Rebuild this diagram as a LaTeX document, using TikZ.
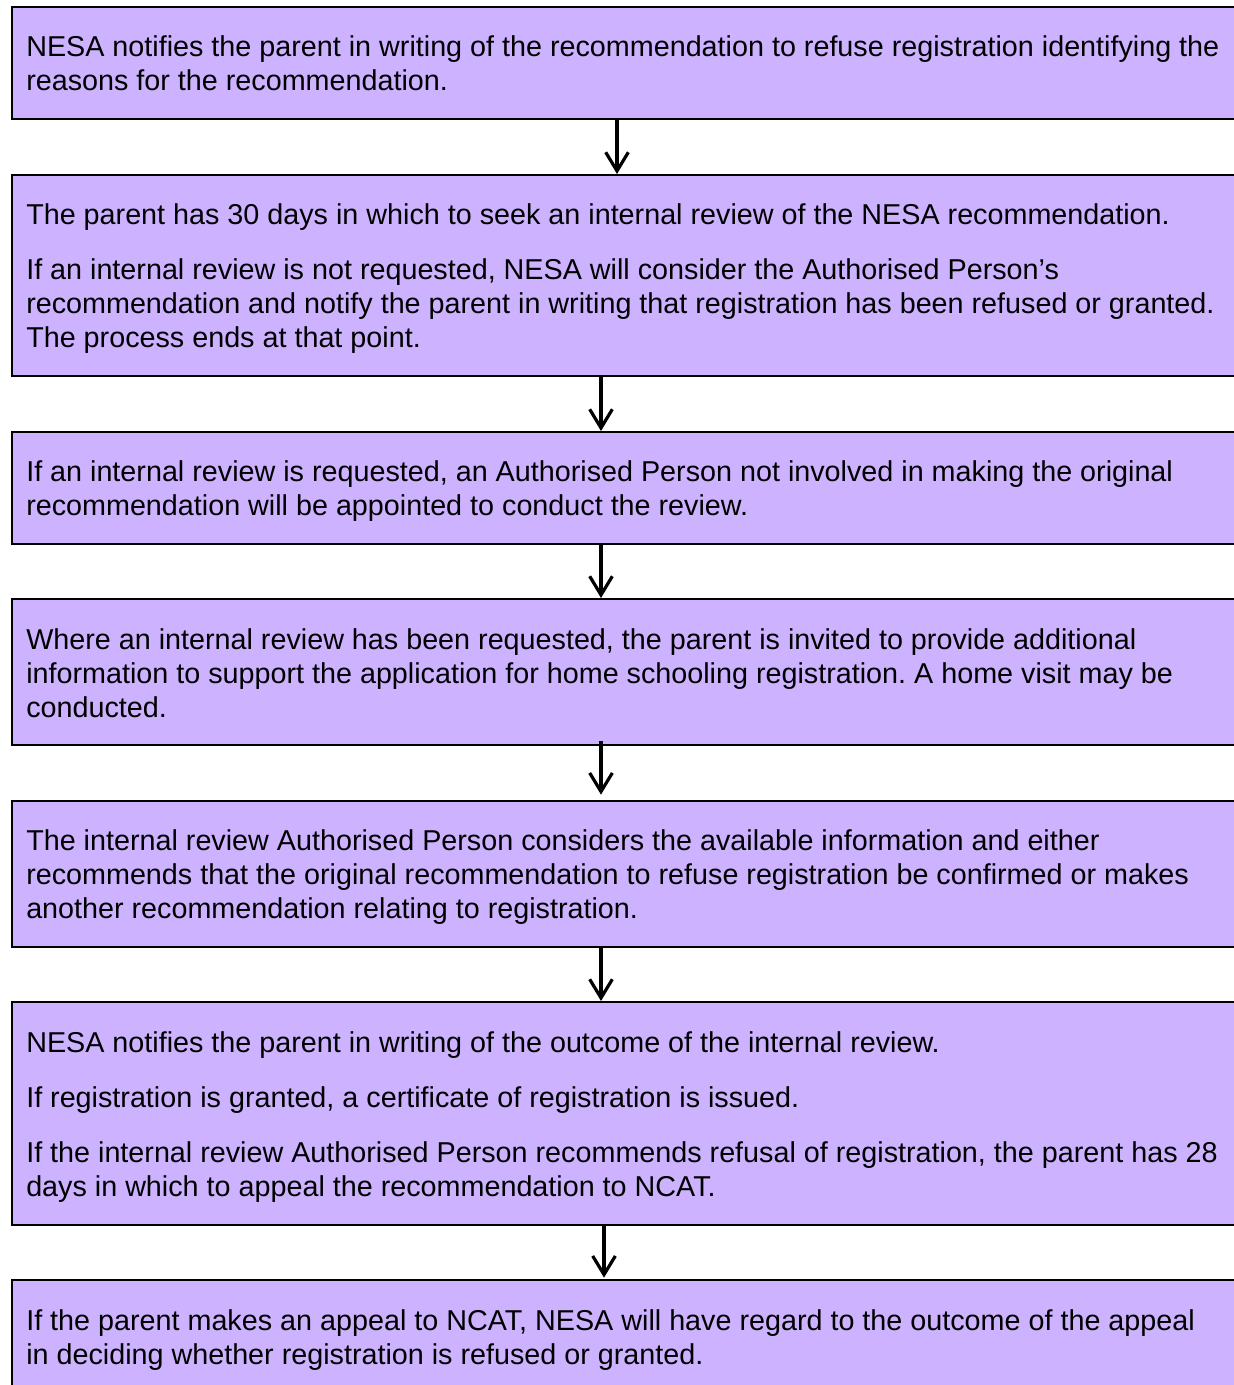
\documentclass[tikz,border=0pt]{standalone}
\usepackage{fontspec}
\setmainfont{Liberation Sans}
\usetikzlibrary{arrows.meta}
\definecolor{boxfill}{RGB}{204,178,255}
\newcommand{\fs}{\rule{0pt}{20pt}}
\begin{document}
\frenchspacing
\begin{tikzpicture}[x=0.75pt,y=-0.75pt,
  stepbox/.style={draw=black, line width=1.8pt, fill=boxfill, rectangle, inner sep=0pt, anchor=north west, minimum width=930pt},
  txt/.style={anchor=north west, inner sep=0pt, align=left, font=\fontsize{21.55pt}{25.5pt}\selectfont},
  arr/.style={line width=2.4pt, -{Straight Barb[length=14pt,width=17pt,line width=2.4pt]}}]
\useasboundingbox (0,0) rectangle (1233,1385);
% boxes
\node[stepbox, minimum height=84pt]     (b1) at (11,6) {};
\node[stepbox, minimum height=150.75pt] (b2) at (11,174) {};
\node[stepbox, minimum height=84pt]     (b3) at (11,431) {};
\node[stepbox, minimum height=109.5pt]  (b4) at (11,598) {};
\node[stepbox, minimum height=109.5pt]  (b5) at (11,800) {};
\node[stepbox, minimum height=167.25pt] (b6) at (11,1001) {};
\node[stepbox, minimum height=90.75pt]  (b7) at (11,1279) {};
% texts
\node[txt] (t1) at (26,29.6) {\fs NESA notifies the parent in writing of the recommendation to refuse registration identifying the\\
reasons for the recommendation.};
\node[txt] (t2) at (26,197.6) {\fs The parent has 30 days in which to seek an internal review of the NESA recommendation.\\[15.75pt]
If an internal review is not requested, NESA will consider the Authorised Person’s\\
recommendation and notify the parent in writing that registration has been refused or granted.\\
The process ends at that point.};
\node[txt] (t3) at (26,454.6) {\fs If an internal review is requested, an Authorised Person not involved in making the original\\
recommendation will be appointed to conduct the review.};
\node[txt] (t4) at (26,622.6) {\fs Where an internal review has been requested, the parent is invited to provide additional\\
information to support the application for home schooling registration. A home visit may be\\
conducted.};
\node[txt] (t5) at (26,823.6) {\fs The internal review Authorised Person considers the available information and either\\
recommends that the original recommendation to refuse registration be confirmed or makes\\
another recommendation relating to registration.};
\node[txt] (t6) at (26,1025.6) {\fs NESA notifies the parent in writing of the outcome of the internal review.\\[15.75pt]
If registration is granted, a certificate of registration is issued.\\[15.75pt]
If the internal review Authorised Person recommends refusal of registration, the parent has 28\\
days in which to appeal the recommendation to NCAT.};
\node[txt] (t7) at (26,1303.6) {\fs If the parent makes an appeal to NCAT, NESA will have regard to the outcome of the appeal\\
in deciding whether registration is refused or granted.};
% connectors
\coordinate (xa) at (617,0);
\coordinate (xb) at (601,0);
\coordinate (xc) at (604,0);
\draw[arr] (b1.south -| xa) -- (b2.north -| xa);
\draw[arr] (b2.south -| xb) -- (b3.north -| xb);
\draw[arr] (b3.south -| xb) -- (b4.north -| xb);
\draw[arr, shorten <=-4pt, shorten >=4pt] (b4.south -| xb) -- (b5.north -| xb);
\draw[arr] (b5.south -| xb) -- (b6.north -| xb);
\draw[arr, shorten <=-2pt, shorten >=1pt] (b6.south -| xc) -- (b7.north -| xc);
\end{tikzpicture}
\end{document}
